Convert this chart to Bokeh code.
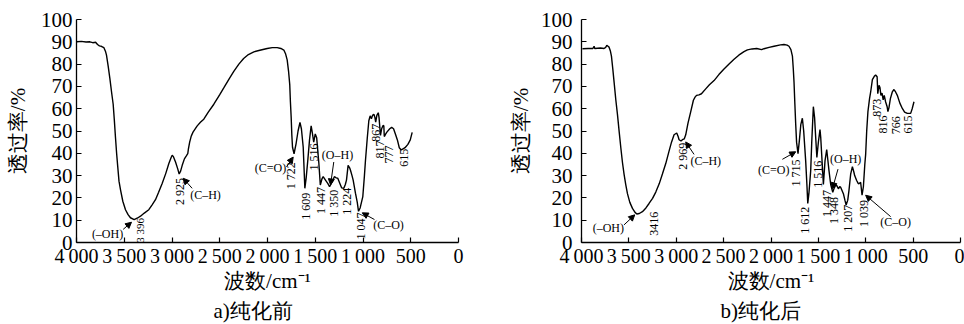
import math
from bokeh.plotting import figure
from bokeh.models import Range1d, FixedTicker, Arrow, NormalHead, Label, Title
from bokeh.layouts import row
from bokeh.embed import file_html
from bokeh.resources import INLINE

# ---------------- data: panel a (before purification) ----------------
a_wn = [3996, 3950, 3900, 3860, 3830, 3800, 3780, 3760, 3740, 3714, 3695, 3686, 3668, 3651,
        3633, 3616, 3604, 3592, 3580, 3568, 3555, 3539, 3515, 3487, 3460, 3435, 3396, 3360,
        3330, 3290, 3243, 3210, 3173, 3140, 3103, 3065, 3033, 3010, 2998, 2985, 2963, 2940,
        2925, 2910, 2893, 2870, 2850, 2835, 2828, 2815, 2800, 2780, 2736, 2700, 2667, 2620,
        2562, 2500, 2458, 2400, 2353, 2300, 2250, 2200, 2143, 2080, 2003, 1950, 1898, 1860,
        1829, 1810, 1794, 1780, 1767, 1760, 1752, 1745, 1738, 1722, 1700, 1680, 1660, 1645,
        1626, 1609, 1595, 1578, 1560, 1543, 1530, 1516, 1500, 1485, 1462, 1447, 1430, 1417,
        1393, 1369, 1350, 1325, 1300, 1280, 1264, 1236, 1224, 1201, 1185, 1173, 1156, 1140,
        1131, 1115, 1103, 1079, 1060, 1047, 1030, 1002, 985, 974, 955, 939, 925, 912, 900,
        886, 875, 867, 855, 840, 832, 817, 805, 790, 782, 777, 765, 750, 720, 700, 680, 660,
        640, 620, 600, 580, 560, 530, 505, 485]
a_tr = [90.0, 90.2, 89.9, 90.0, 89.6, 89.8, 88.8, 88.2, 88.0, 87.4, 85.5, 84.0, 79.0, 73.7,
        67.5, 62.0, 55.0, 47.2, 40.0, 33.9, 27.5, 23.6, 18.5, 14.7, 12.5, 11.1, 10.3, 11.0,
        11.8, 13.2, 14.7, 16.8, 19.2, 22.5, 26.5, 31.0, 35.4, 38.0, 39.1, 38.5, 36.1, 33.0,
        30.7, 32.0, 34.6, 37.5, 38.8, 39.8, 42.0, 45.0, 47.5, 49.5, 52.3, 54.0, 55.3, 58.5,
        62.0, 66.3, 69.3, 73.5, 76.7, 80.0, 82.5, 84.3, 85.5, 86.2, 87.0, 87.4, 87.4, 87.0,
        86.3, 84.5, 81.9, 77.0, 70.8, 63.0, 56.0, 48.0, 42.7, 39.8, 44.5, 50.0, 53.8, 51.0,
        42.7, 24.3, 29.0, 36.9, 46.0, 52.3, 49.0, 45.0, 48.7, 47.0, 35.4, 25.8, 28.5, 29.5,
        28.0, 26.5, 25.0, 27.0, 29.5, 29.0, 28.8, 25.8, 24.5, 24.3, 26.0, 28.0, 34.6, 33.5,
        32.4, 30.0, 28.0, 22.1, 18.0, 14.0, 15.5, 20.6, 30.0, 36.9, 47.0, 54.6, 56.8, 55.5, 57.0,
        57.5, 56.0, 54.0, 57.0, 58.2, 56.0, 48.0, 51.0, 52.5, 52.3, 47.5, 48.5, 49.5, 51.0,
        51.6, 51.0, 48.5, 46.0, 42.5, 41.5, 42.0, 42.5, 44.0, 46.0, 49.4]

# ---------------- data: panel b (after purification) ----------------
b_wn = [3990, 3930, 3880, 3867, 3860, 3800, 3762, 3745, 3733, 3720, 3709, 3696, 3684, 3670,
        3656, 3638, 3620, 3602, 3585, 3568, 3551, 3533, 3515, 3490, 3462, 3435, 3416, 3390,
        3357, 3320, 3287, 3250, 3216, 3180, 3146, 3110, 3076, 3050, 3023, 2995, 2980, 2970,
        2950, 2935, 2915, 2900, 2876, 2847, 2819, 2800, 2784, 2760, 2734, 2689, 2650, 2601,
        2550, 2496, 2440, 2390, 2340, 2285, 2249, 2200, 2150, 2100, 2074, 2020, 1968, 1900,
        1863, 1830, 1810, 1790, 1774, 1765, 1757, 1748, 1739, 1730, 1715, 1700, 1685, 1669,
        1655, 1634, 1620, 1612, 1600, 1581, 1570, 1553, 1540, 1528, 1516, 1500, 1483, 1475,
        1465, 1447, 1430, 1412, 1400, 1388, 1370, 1348, 1336, 1320, 1307, 1289, 1275, 1265,
        1236, 1220, 1207, 1190, 1177, 1159, 1141, 1125, 1117, 1096, 1080, 1072, 1054, 1039,
        1025, 1010, 1001, 990, 977, 960, 948, 930, 910, 896, 880, 873, 860, 850, 840, 828,
        816, 805, 790, 775, 766, 755, 740, 720, 702, 685, 667, 640, 614, 590, 561, 526, 510, 491]
b_tr = [86.9, 87.0, 87.0, 88.0, 87.0, 87.2, 87.0, 87.5, 88.4, 88.0, 87.6, 86.0, 83.6, 78.0,
        71.9, 64.0, 57.2, 49.5, 42.5, 36.0, 30.7, 26.0, 21.9, 18.0, 15.3, 13.5, 12.8, 13.0,
        13.8, 15.5, 17.5, 19.8, 22.6, 26.3, 30.7, 35.5, 41.0, 45.0, 48.3, 49.1, 47.5, 46.1,
        45.5, 46.1, 46.5, 48.3, 53.5, 58.7, 63.8, 65.3, 66.0, 66.2, 66.7, 68.9, 70.7, 72.6,
        75.3, 77.8, 80.2, 82.2, 84.0, 85.6, 86.4, 86.8, 87.0, 86.5, 86.9, 87.5, 88.0, 88.6,
        88.8, 88.5, 88.0, 86.5, 83.6, 78.0, 71.9, 62.0, 52.8, 45.0, 39.8, 46.0, 53.0, 55.7,
        50.0, 36.6, 25.0, 17.5, 22.0, 32.2, 45.0, 60.9, 56.0, 46.9, 38.1, 45.0, 50.6, 47.0,
        39.5, 26.0, 36.6, 41.7, 37.0, 32.2, 26.0, 22.5, 24.1, 25.5, 25.6, 24.1, 25.0, 24.8,
        21.9, 19.0, 16.8, 19.0, 23.4, 30.7, 34.0, 31.5, 30.0, 27.8, 26.5, 26.3, 27.0, 21.2,
        25.0, 35.0, 39.5, 50.0, 58.7, 64.5, 67.5, 73.0, 74.5, 75.1, 74.3, 66.7, 70.5, 69.5,
        66.0, 67.0, 64.0, 66.0, 63.0, 61.0, 58.7, 60.5, 64.5, 67.5, 68.6, 67.5, 66.0, 62.5,
        60.1, 58.5, 57.9, 57.9, 60.0, 63.1]

# ---------------- axes ----------------
x_ticks = [4000, 3500, 3000, 2500, 2000, 1500, 1000, 500, 0]
x_tick_labels = ["4\u2009000", "3\u2009500", "3\u2009000", "2\u2009500", "2\u2009000",
                 "1\u2009500", "1\u2009000", "500", "0"]
y_ticks = [0, 10, 20, 30, 40, 50, 60, 70, 80, 90, 100]
x_title = "波数/cm⁻¹"
y_title = "透过率/%"

# ---------------- annotations ----------------
a_peak_text = ["3 396", "2 925", "1 722", "1 609", "1 516", "1 447", "1 350", "1 224", "1 047",
               "867", "817", "777", "615"]
a_peak_x = [3330, 2921, 1749, 1592, 1513, 1440, 1304, 1168, 1016, 859, 817, 728, 575]
a_peak_y = [11.0, 28.9, 36.0, 22.3, 44.4, 24.9, 23.6, 24.5, 13.4, 53.2, 45.7, 43.5, 42.0]
a_peak_size = ["11px"] + ["12px"] * 12
a_group_text = ["(–OH)", "(C–H)", "(C=O)", "(O–H)", "(C–O)"]
a_group_x = [3675, 2649, 1969, 1267, 733]
a_group_y = [3.7, 21.4, 33.3, 39.1, 7.7]
a_arrows = [(3511, 5.9, 3424, 9.1), (2789, 24.3, 2883, 28.8), (1801, 33.9, 1731, 38.3),
            (1306, 36.1, 1340, 25.8), (880, 10.3, 1008, 13.3)]

b_peak_text = ["3416", "2 969", "1 715", "1 612", "1 516", "1 447", "1 348", "1 207", "1 039",
               "873", "816", "766", "615"]
b_peak_x = [3237, 2931, 1734, 1644, 1507, 1412, 1338, 1186, 1022, 885, 822, 684, 558]
b_peak_y = [13.8, 44.7, 37.2, 16.0, 36.7, 23.5, 20.4, 16.9, 19.1, 64.5, 57.0, 56.6, 57.0]
b_peak_size = ["12px"] * 13
b_group_text = ["(–OH)", "(C–H)", "(C=O)", "(O–H)", "(C–O)"]
b_group_x = [3717, 2689, 1971, 1212, 684]
b_group_y = [6.3, 36.7, 32.3, 37.6, 9.0]
b_arrows = [(3551, 7.9, 3438, 12.4), (2812, 39.5, 2900, 45.1), (1880, 37.3, 1739, 40.7),
            (1293, 32.9, 1352, 24.1), (737, 11.6, 1001, 21.2)]

SERIF = "Liberation Serif"


def panel(wn, tr, peak_text, peak_x, peak_y, peak_size, group_text, group_x, group_y, arrows,
          caption, width, bl, br, bt, bb, ylab_standoff, ytick_standoff, cap_offset):
    p = figure(width=width, height=323, output_backend="svg", toolbar_location=None,
               x_range=Range1d(4000, 0), y_range=Range1d(0, 100),
               min_border_left=bl, min_border_right=br, min_border_top=bt, min_border_bottom=bb)
    p.outline_line_color = None
    p.grid.visible = False
    p.background_fill_color = "white"
    p.border_fill_color = "white"

    p.line(wn, tr, line_color="black", line_width=1.4)

    xa = p.xaxis[0]
    xa.ticker = FixedTicker(ticks=x_ticks)
    xa.major_label_overrides = {t: s for t, s in zip(x_ticks, x_tick_labels)}
    ya = p.yaxis[0]
    ya.ticker = FixedTicker(ticks=y_ticks)
    for ax in (xa, ya):
        ax.minor_tick_line_color = None
        ax.major_tick_in = 5
        ax.major_tick_out = 0
        ax.axis_line_color = "black"
        ax.axis_line_width = 1.3
        ax.major_tick_line_color = "black"
        ax.major_tick_line_width = 1.2
        ax.major_label_text_font = SERIF
        ax.major_label_text_color = "black"
        ax.axis_label_text_font = SERIF
        ax.axis_label_text_font_style = "normal"
        ax.axis_label_text_color = "black"
        ax.axis_label_text_font_size = "21px"
    xa.major_label_text_font_size = "20px"
    ya.major_label_text_font_size = "21px"
    xa.major_label_standoff = 2
    ya.major_label_standoff = ytick_standoff
    xa.axis_label = x_title
    ya.axis_label = y_title
    xa.axis_label_standoff = -1
    ya.axis_label_standoff = ylab_standoff

    p.add_layout(Title(text=caption, align="left", offset=cap_offset, standoff=2,
                       text_font=SERIF, text_font_size="21px", text_font_style="normal",
                       text_color="black"), "below")

    for t, x, y, s in zip(peak_text, peak_x, peak_y, peak_size):
        p.add_layout(Label(x=x, y=y, text=t, angle=math.pi / 2, text_align="right",
                           text_baseline="middle", text_font=SERIF, text_font_size=s,
                           text_color="black"))
    for t, x, y in zip(group_text, group_x, group_y):
        p.add_layout(Label(x=x, y=y, text=t, text_align="center", text_baseline="middle",
                           text_font=SERIF, text_font_size="12px", text_color="black"))
    for (x0, y0, x1, y1) in arrows:
        p.add_layout(Arrow(x_start=x0, y_start=y0, x_end=x1, y_end=y1, line_width=1,
                           line_color="black",
                           end=NormalHead(size=6, fill_color="black", line_color="black")))
    return p


p1 = panel(a_wn, a_tr, a_peak_text, a_peak_x, a_peak_y, a_peak_size, a_group_text, a_group_x,
           a_group_y, a_arrows, "a)纯化前", 480, 76, 22, 17, 80, 8, 4, 137)
p2 = panel(b_wn, b_tr, b_peak_text, b_peak_x, b_peak_y, b_peak_size, b_group_text, b_group_x,
           b_group_y, b_arrows, "b)纯化后", 484, 101, 4, 19, 77, 5, 9, 139)

layout = row(p1, p2)
open("out.html", "w").write(file_html(layout, INLINE))
